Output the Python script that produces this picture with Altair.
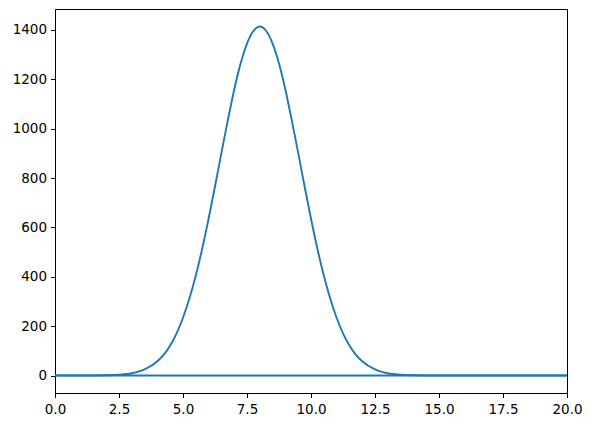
import altair as alt
import pandas as pd

xs = [0, 0.5, 1, 1.5, 2, 2.5, 3, 3.5, 4, 4.25, 4.5, 4.75, 5, 5.25, 5.5, 5.75,
      6, 6.25, 6.5, 6.75, 7, 7.25, 7.5, 7.75, 8, 8.25, 8.5, 8.75, 9, 9.25,
      9.5, 9.75, 10, 10.25, 10.5, 10.75, 11, 11.25, 11.5, 11.75, 12, 12.5,
      13, 13.5, 14, 14.5, 15, 15.5, 16, 17, 18, 19, 20]
ys = [0, 0, 0.1, 0.3, 1.1, 3.3, 9.5, 25, 58, 85, 122, 171, 234, 312, 405, 514,
      635, 766, 902, 1034, 1158, 1264, 1345, 1396, 1414, 1396, 1345, 1264, 1158, 1034,
      902, 766, 635, 514, 405, 312, 234, 171, 122, 85, 58, 25,
      9.5, 3.3, 1.1, 0.3, 0.1, 0, 0, 0, 0, 0, 0]
base_x = [0, 20]
base_y = [0, 0]

curve = pd.DataFrame({"x": xs, "y": ys})
base = pd.DataFrame({"x": base_x, "y": base_y})

xscale = alt.Scale(domain=[0, 20], nice=False, zero=False)
yscale = alt.Scale(domain=[-70.7, 1485], nice=False, zero=False)

axis_common = dict(
    grid=False, domainColor="black", domainWidth=1, tickColor="black",
    tickWidth=1, tickSize=4.5, labelColor="black", labelFont="DejaVu Sans",
    labelFontSize=13.5, title=None,
)

xaxis = alt.Axis(values=[0, 2.5, 5, 7.5, 10, 12.5, 15, 17.5, 20], format=".1f",
                 labelPadding=5, labelFlush=False, labelOverlap=False, **axis_common)
yaxis = alt.Axis(values=[0, 200, 400, 600, 800, 1000, 1200, 1400], format="d",
                 labelPadding=4, **axis_common)

line1 = alt.Chart(curve).mark_line(color="#1f77b4", strokeWidth=1.9, interpolate="monotone").encode(
    x=alt.X("x:Q", scale=xscale, axis=xaxis),
    y=alt.Y("y:Q", scale=yscale, axis=yaxis),
)
line2 = alt.Chart(base).mark_line(color="#1f77b4", strokeWidth=1.9).encode(
    x=alt.X("x:Q", scale=xscale),
    y=alt.Y("y:Q", scale=yscale),
)

chart = alt.layer(line1, line2).properties(
    width=512, height=384,
    background="white",
    autosize=alt.AutoSizeParams(type="none"),
    padding={"left": 47, "top": 1, "right": 17, "bottom": 26},
).configure_view(stroke="black", strokeWidth=1)

chart.save("out.html", embed_options={"renderer": "svg", "actions": False})
